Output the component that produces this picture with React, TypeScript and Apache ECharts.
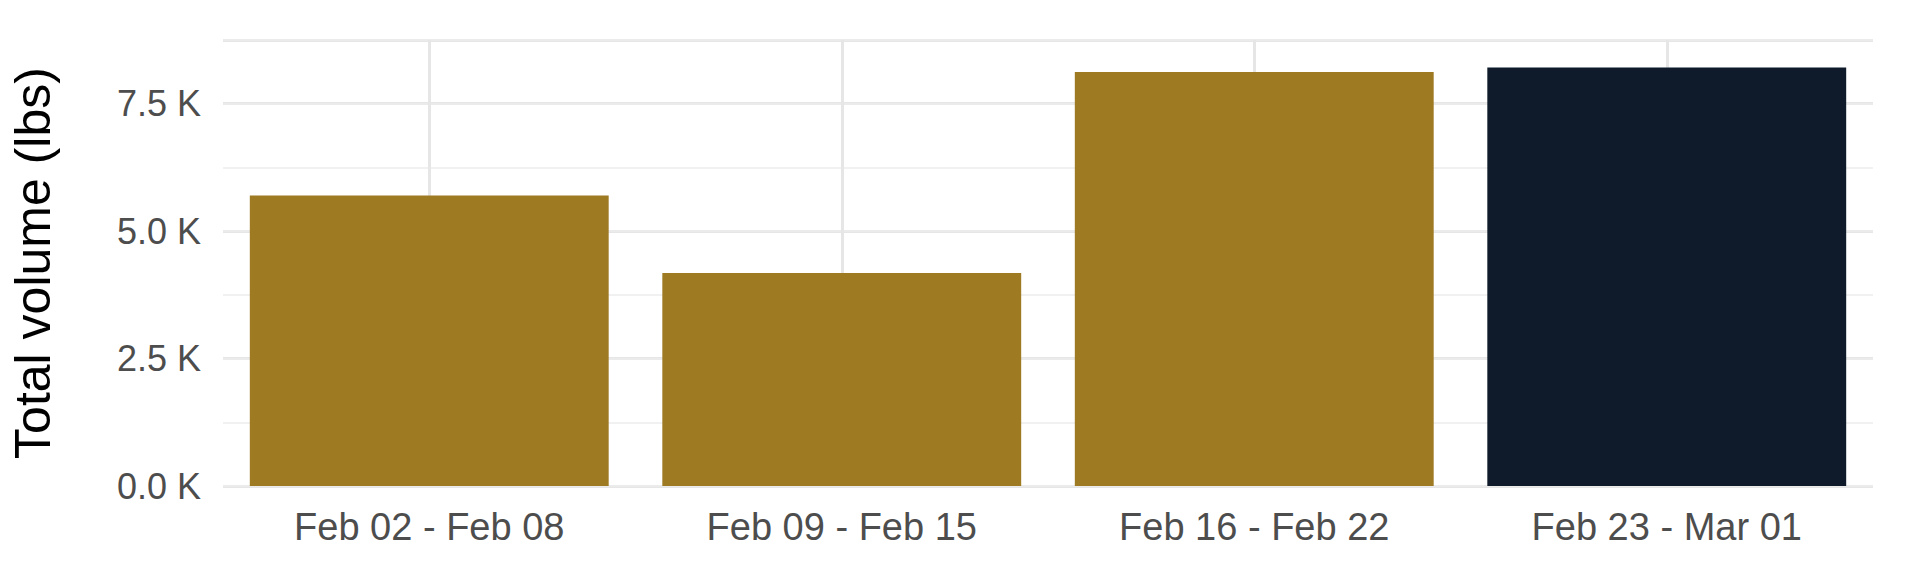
import { useEffect, useRef } from "react";
import * as echarts from "echarts";

const categories = ["Feb 02 - Feb 08", "Feb 09 - Feb 15", "Feb 16 - Feb 22", "Feb 23 - Mar 01"];
const volumes = [5700, 4180, 8120, 8210];
const barColors = ["#9E7A23", "#9E7A23", "#9E7A23", "#0F1B2A"];

export default function App() {
  const ref = useRef<HTMLDivElement>(null);

  useEffect(() => {
    if (!ref.current) return;
    document.body.style.margin = "0";
    const chart = echarts.init(ref.current, undefined, { renderer: "svg" });
    const font = "'Liberation Sans', Arial, sans-serif";
    chart.setOption({
      animation: false,
      backgroundColor: "#ffffff",
      grid: { left: 214, right: 47, top: 40, bottom: 90 },
      xAxis: {
        type: "category",
        data: categories,
        axisLine: { show: false },
        axisTick: { show: false },
        splitLine: { show: false },
        axisLabel: { color: "#4d4d4d", fontSize: 38, fontFamily: font, margin: 22 },
      },
      yAxis: [
        {
          type: "value",
          min: 0,
          max: 8750,
          interval: 2500,
          name: "Total volume (lbs)",
          nameLocation: "middle",
          nameGap: 165,
          nameTextStyle: { color: "#000", fontSize: 50, fontFamily: font },
          axisLine: { show: false },
          axisTick: { show: false },
          axisLabel: {
            color: "#4d4d4d",
            fontSize: 36,
            fontFamily: font,
            margin: 22,
            formatter: (v: number) => (v % 2500 === 0 ? (v / 1000).toFixed(1) + " K" : ""),
          },
          splitLine: { lineStyle: { color: "#e6e6e6", width: 3 } },
        },
        {
          type: "value",
          min: 0,
          max: 8750,
          interval: 1250,
          axisLine: { show: false },
          axisTick: { show: false },
          axisLabel: { show: false },
          splitLine: { lineStyle: { color: "#ececec", width: 1.5 } },
        },
      ],
      series: [
        {
          type: "line",
          data: [],
          z: 1,
          markLine: {
            z: 1,
            silent: true,
            symbol: "none",
            label: { show: false },
            lineStyle: { color: "#e6e6e6", width: 3, type: "solid" },
            data: categories.map((c) => ({ xAxis: c })),
          },
        },
        {
          type: "bar",
          z: 3,
          barCategoryGap: "13%",
          data: volumes.map((v, i) => ({ value: v, itemStyle: { color: barColors[i] } })),
        },
      ],
    });
    return () => chart.dispose();
  }, []);

  return <div ref={ref} style={{ width: 1920, height: 576 }} />;
}
